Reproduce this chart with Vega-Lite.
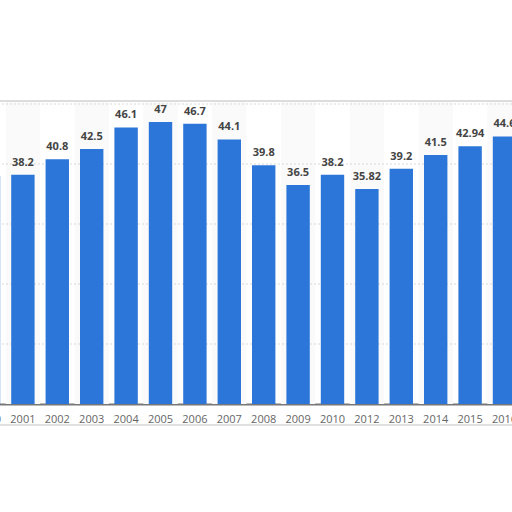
{
  "$schema": "https://vega.github.io/schema/vega-lite/v6.json",
  "width": 512,
  "height": 303,
  "autosize": {"type": "none"},
  "padding": {"left": 0, "right": 0, "top": 101, "bottom": 108},
  "background": "white",
  "config": {"view": {"stroke": null}, "font": "Open Sans"},
  "data": {
    "values": [
      {"year": "2000", "value": 38},
      {"year": "2001", "value": 38.2},
      {"year": "2002", "value": 40.8},
      {"year": "2003", "value": 42.5},
      {"year": "2004", "value": 46.1},
      {"year": "2005", "value": 47},
      {"year": "2006", "value": 46.7},
      {"year": "2007", "value": 44.1},
      {"year": "2008", "value": 39.8},
      {"year": "2009", "value": 36.5},
      {"year": "2010", "value": 38.2},
      {"year": "2012", "value": 35.82},
      {"year": "2013", "value": 39.2},
      {"year": "2014", "value": 41.5},
      {"year": "2015", "value": 42.94},
      {"year": "2016", "value": 44.6}
    ]
  },
  "encoding": {
    "x": {
      "field": "year",
      "type": "ordinal",
      "sort": null,
      "scale": {
        "domain": ["2000", "2001", "2002", "2003", "2004", "2005", "2006", "2007", "2008", "2009", "2010", "2012", "2013", "2014", "2015", "2016"],
        "range": [-28.7, 521.7],
        "paddingInner": 0.32,
        "paddingOuter": 0.16
      },
      "axis": {
        "title": null,
        "labelAngle": 0,
        "ticks": false,
        "grid": false,
        "domainColor": "#777777",
        "domainWidth": 2,
        "labelColor": "#666666",
        "labelFontSize": 11,
        "labelPadding": 9
      }
    }
  },
  "layer": [
    {
      "transform": [
        {"filter": "indexof(['2001','2003','2005','2007','2009','2012','2014','2016'], datum.year) >= 0"}
      ],
      "mark": {"type": "bar", "color": "#fafafa", "width": {"band": 1.47}},
      "encoding": {
        "y": {"datum": 50.5, "type": "quantitative", "scale": {"domain": [0, 50.5], "nice": false}, "axis": null},
        "y2": {"datum": 0}
      }
    },
    {
      "data": {"values": [{"level": 10}, {"level": 20}, {"level": 30}, {"level": 40}, {"level": 50}]},
      "mark": {"type": "rule", "color": "#d9d9d9", "strokeDash": [2, 2], "strokeWidth": 1},
      "encoding": {
        "x": null,
        "y": {"field": "level", "type": "quantitative"}
      }
    },
    {
      "mark": {"type": "rule", "color": "#dddddd", "strokeWidth": 2},
      "encoding": {
        "x": null,
        "y": {"datum": 50.5, "type": "quantitative"}
      }
    },
    {
      "mark": {"type": "rule", "color": "#e0e0e0", "strokeWidth": 2},
      "encoding": {
        "x": null,
        "y": {"datum": -3.5, "type": "quantitative"}
      }
    },
    {
      "mark": {"type": "bar", "color": "#2b76d8"},
      "encoding": {
        "y": {"field": "value", "type": "quantitative"}
      }
    },
    {
      "mark": {
        "type": "text",
        "baseline": "alphabetic",
        "dy": -9,
        "fontSize": 11,
        "fontWeight": "bold",
        "color": "#444444"
      },
      "encoding": {
        "y": {"field": "value", "type": "quantitative"},
        "text": {"field": "value", "type": "quantitative"}
      }
    }
  ]
}
